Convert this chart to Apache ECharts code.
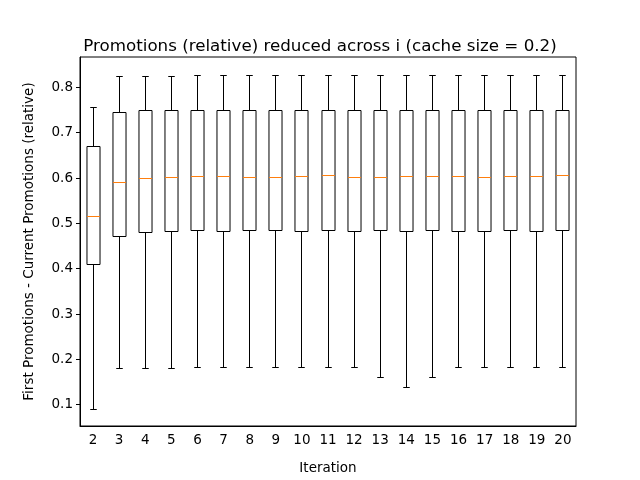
<!DOCTYPE html>
<html>
<head>
<meta charset="utf-8">
<script src="https://cdn.jsdelivr.net/npm/echarts@6/dist/echarts.min.js"></script>
<style>html,body{margin:0;background:#fff}#c{width:640px;height:480px}</style>
</head>
<body>
<div id="c"></div>
<script>
var iterations = ['2','3','4','5','6','7','8','9','10','11','12','13','14','15','16','17','18','19','20'];
var lows    = [0.090,0.180,0.180,0.180,0.183,0.183,0.183,0.183,0.183,0.183,0.183,0.160,0.137,0.160,0.183,0.183,0.183,0.183,0.183];
var q1s     = [0.410,0.470,0.480,0.483,0.485,0.483,0.485,0.485,0.483,0.485,0.483,0.485,0.483,0.485,0.483,0.483,0.485,0.483,0.485];
var medians = [0.515,0.590,0.600,0.602,0.603,0.603,0.602,0.602,0.603,0.605,0.602,0.602,0.603,0.603,0.603,0.602,0.603,0.603,0.605];
var q3s     = [0.670,0.745,0.750,0.750,0.750,0.750,0.750,0.750,0.750,0.750,0.750,0.750,0.750,0.750,0.750,0.750,0.750,0.750,0.750];
var highs   = [0.755,0.825,0.825,0.825,0.827,0.827,0.827,0.827,0.827,0.827,0.827,0.827,0.827,0.827,0.827,0.827,0.827,0.827,0.827];

var data = iterations.map(function (c, i) {
    return [i, lows[i], q1s[i], medians[i], q3s[i], highs[i]];
});

// snap to half pixels so 1px lines stay crisp
var px = function (v) { return Math.round(v - 0.5) + 0.5; };

var renderBox = function (params, api) {
    var x = api.value(0);
    var w = api.size([1, 0])[0];
    var bw = w * 0.25, cw = w * 0.125;
    var lo = api.coord([x, api.value(1)]);
    var q1 = api.coord([x, api.value(2)]);
    var md = api.coord([x, api.value(3)]);
    var q3 = api.coord([x, api.value(4)]);
    var hi = api.coord([x, api.value(5)]);
    var cx = px(lo[0]);
    var yl = px(lo[1]), y1 = px(q1[1]), ym = px(md[1]), y3 = px(q3[1]), yh = px(hi[1]);
    var black = { stroke: '#000', lineWidth: 1, fill: null };
    return {
        type: 'group',
        children: [
            { type: 'line', shape: { x1: cx, y1: yl, x2: cx, y2: y1 }, style: black },
            { type: 'line', shape: { x1: cx, y1: y3, x2: cx, y2: yh }, style: black },
            { type: 'line', shape: { x1: cx - cw, y1: yl, x2: cx + cw, y2: yl }, style: black },
            { type: 'line', shape: { x1: cx - cw, y1: yh, x2: cx + cw, y2: yh }, style: black },
            { type: 'rect', shape: { x: cx - bw, y: y3, width: bw * 2, height: y1 - y3 }, style: black },
            { type: 'line', shape: { x1: cx - bw, y1: ym, x2: cx + bw, y2: ym }, style: { stroke: '#ff7f0e', lineWidth: 1 } }
        ]
    };
};

var myChart = echarts.init(document.getElementById('c'));
var option = {
    animation: false,
    title: {
        text: 'Promotions (relative) reduced across i (cache size = 0.2)',
        left: 'center', top: 33,
        textStyle: { fontFamily: 'DejaVu Sans', fontSize: 16.7, fontWeight: 'normal', color: '#000' }
    },
    grid: { left: 80, right: 64, top: 57, bottom: 53, show: true, borderColor: '#000', borderWidth: 1 },
    xAxis: {
        type: 'category',
        data: iterations,
        name: 'Iteration', nameLocation: 'middle', nameGap: 35,
        nameTextStyle: { fontFamily: 'DejaVu Sans', fontSize: 13.5, color: '#000' },
        axisLine: { lineStyle: { color: '#000' } },
        axisTick: { alignWithLabel: true, length: 4, lineStyle: { color: '#000' } },
        axisLabel: { fontFamily: 'DejaVu Sans', fontSize: 13.5, color: '#000', margin: 7 },
        splitLine: { show: false }
    },
    yAxis: {
        type: 'value',
        min: 0.053, max: 0.867, splitNumber: 8,
        name: 'First Promotions - Current Promotions (relative)', nameLocation: 'middle', nameGap: 44,
        nameTextStyle: { fontFamily: 'DejaVu Sans', fontSize: 13.5, color: '#000' },
        axisLine: { show: true, lineStyle: { color: '#000' } },
        axisTick: { show: true, length: 4, lineStyle: { color: '#000' } },
        axisLabel: {
            fontFamily: 'DejaVu Sans', fontSize: 13.5, color: '#000', margin: 7,
            showMinLabel: false, showMaxLabel: false,
            formatter: function (v) { return v.toFixed(1); }
        },
        splitLine: { show: false }
    },
    series: [{
        type: 'custom',
        renderItem: renderBox,
        encode: { x: 0, y: [1, 2, 3, 4, 5] },
        data: data
    }]
};
myChart.setOption(option);
</script>
</body>
</html>
